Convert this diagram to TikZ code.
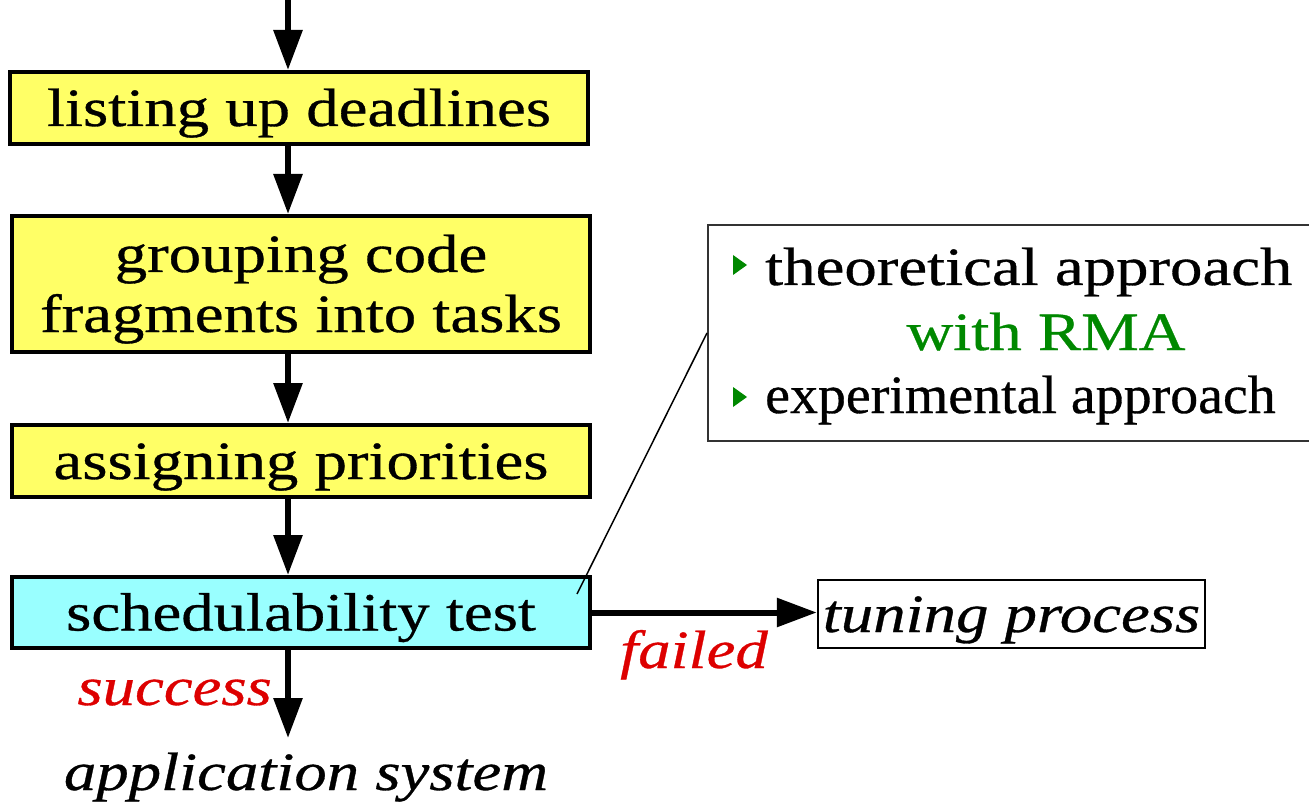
\documentclass[tikz,border=0pt]{standalone}
\usepackage{fontspec}
\setmainfont{Liberation Serif}[FakeStretch=1.2, FakeBold=0.6]
\newfontfamily\condensedserif{Liberation Serif}[FakeStretch=1.035, FakeBold=0.6]
\usetikzlibrary{arrows.meta}

\definecolor{stepyellow}{RGB}{255,255,102}
\definecolor{testcyan}{RGB}{153,255,255}
\definecolor{outcomered}{RGB}{221,0,0}
\definecolor{notegreen}{RGB}{0,136,0}
\definecolor{noteframe}{RGB}{51,51,51}

\begin{document}
\begin{tikzpicture}[x=1pt, y=-1pt,
  every node/.style={inner sep=0pt},
  font=\fontsize{54}{60}\selectfont,
  stepbox/.style={draw=black, line width=4pt, minimum width=578pt,
    text height=42pt, text depth=6pt},
  flow/.style={line width=6pt, -{Triangle[length=40pt, width=28pt]}},
  outcome/.style={text=outcomered, font=\fontsize{54}{60}\selectfont\itshape},
  result/.style={font=\fontsize{54}{60}\selectfont\itshape},
  bullet/.style={fill=notegreen}
]
\useasboundingbox (0,0) rectangle (1309,802);

% design steps
\node[stepbox, fill=stepyellow, minimum height=72pt] (deadlines) at (299,108) {listing up deadlines};
\node[stepbox, fill=stepyellow, minimum height=136pt] (grouping) at (301,284) {};
\node[anchor=base] (groupline1) at (301,272) {grouping code};
\node[anchor=base] (groupline2) at (301,332) {fragments into tasks};
\node[stepbox, fill=stepyellow, minimum height=72pt] (priorities) at (301,461) {assigning priorities};
\node[stepbox, fill=testcyan, minimum height=71pt] (test) at (301,612.5) {schedulability test};

% outcomes
\node[draw=black, line width=2.5pt, minimum width=387pt, minimum height=68pt,
  text height=42pt, text depth=6pt, result] (tuning) at (1011.5,614) {tuning process};
\node[anchor=base, result] (system) at (306,790) {application system};
\node[anchor=base east, outcome] (success) at (272,705) {success};
\node[anchor=base west, outcome] (failed) at (620,668) {failed};

% main flow
\coordinate (entry) at (288,-4);
\coordinate (done) at (288,738);
\draw[flow] (entry) -- (entry |- deadlines.north);
\draw[flow] (deadlines.south -| entry) -- (grouping.north -| entry);
\draw[flow] (grouping.south -| entry) -- (priorities.north -| entry);
\draw[flow] (priorities.south -| entry) -- (test.north -| entry);
\draw[flow] (test.south -| entry) -- (done);
\draw[flow] (test.east) -- (test.east -| tuning.west);

% note on the test methods
\node[draw=noteframe, line width=2pt, anchor=north west,
  minimum width=613pt, minimum height=216pt] (note) at (707,224) {};
\coordinate (pin) at (577,594);
\draw[line width=1.5pt] (pin) -- (note.west);
\fill[bullet] (733,255) -- (747,265) -- (733,275) -- cycle;
\fill[bullet] (733,387) -- (747,397) -- (733,407) -- cycle;
\node[anchor=base west] (theory) at (765,285) {theoretical approach};
\node[anchor=base, text=notegreen] (rma) at (1046,350) {with RMA};
\node[anchor=base west, font=\condensedserif\fontsize{54}{60}\selectfont] (experiment) at (765,413) {experimental approach};
\end{tikzpicture}
\end{document}
